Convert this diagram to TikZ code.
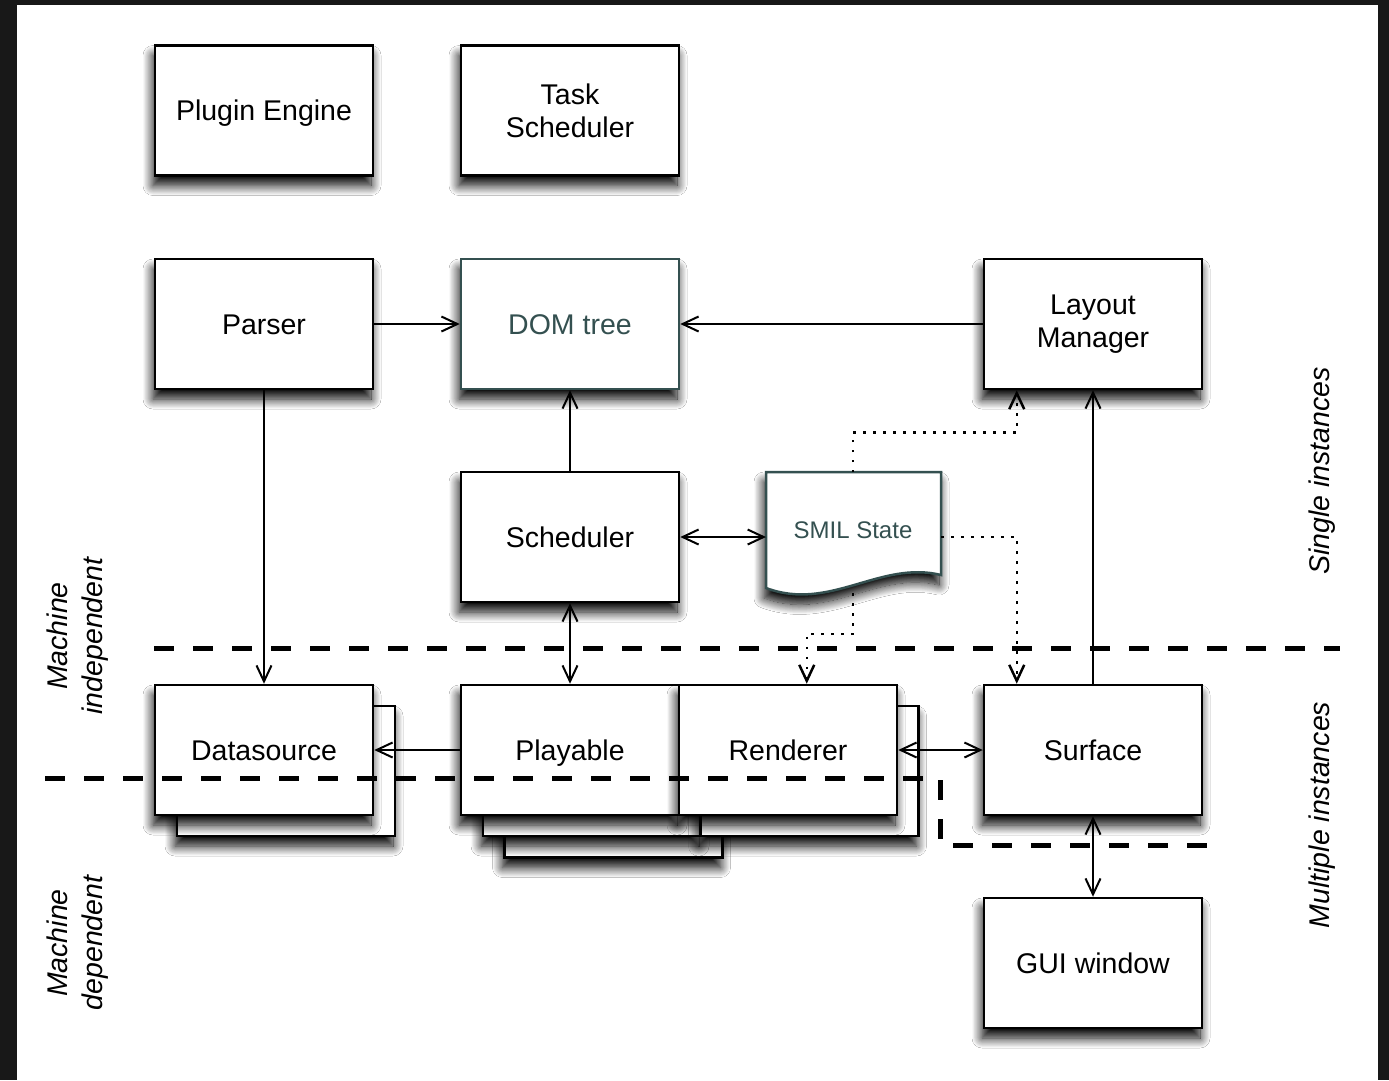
\documentclass[tikz,border=0pt]{standalone}
\usepackage{fontspec}
\setmainfont{Liberation Sans}
\usetikzlibrary{arrows.meta,shadows.blur}
\definecolor{slate}{RGB}{52,80,80}
\definecolor{framecol}{RGB}{24,24,24}
\tikzset{
  shad/.style={blur shadow={shadow xshift=-2pt, shadow yshift=-10pt, shadow blur radius=10pt, shadow opacity=100, shadow blur steps=14}},
  box/.style={draw=black, line width=2.5pt, fill=white, minimum width=218pt, minimum height=130pt,
    inner sep=0pt, align=center, font=\fontsize{28.5}{33}\selectfont, shad},
  one/.style={text height=20.5pt, text depth=0pt},
  slatebox/.style={box, one, draw=slate, text=slate},
  lab/.style={align=center, font=\fontsize{28.5}{35}\selectfont\itshape, rotate=90},
  conn/.style={line width=2pt},
  tip/.tip={Straight Barb[length=16pt,width=15pt]},
  arr/.style={conn, -tip},
  darr/.style={conn, tip-tip},
  dots/.style={line width=2.5pt, dash pattern=on 2.5pt off 7.5pt, -tip},
  divider/.style={line width=5pt, dash pattern=on 20pt off 19pt}
}
\begin{document}
\begin{tikzpicture}[x=1pt,y=-1pt]
\useasboundingbox (0,0) rectangle (1389,1080);
\fill[framecol] (0,0) rectangle (1389,1080);
\fill[white] (17,5) rectangle (1378,1080);

% top row
\node[box, one] (plugin) at (264,110.5) {Plugin Engine};
\node[box] (task) at (570,110.5) {Task\\Scheduler};

% second row
\node[box, one] (parser) at (264,324) {Parser};
\node[slatebox] (dom) at (570,324) {DOM tree};
\node[box] (layout) at (1093,324) {Layout\\Manager};

% third row
\node[box, one] (sched) at (570,537) {Scheduler};
\draw[draw=slate, line width=2.5pt, fill=white, shad]
  (766,472) -- (941,472) -- (941,575)
  .. controls (880,560) and (830,612) .. (766,588) -- cycle;
\node[text=slate, font=\fontsize{24}{28}\selectfont, text height=17.2pt, text depth=0pt] (smil) at (853,530) {SMIL State};
\coordinate (smiltop) at (853,472);
\coordinate (smilright) at (941,537);
\coordinate (smilbot) at (853,593);

% fourth row (stacked instances)
\node[box] (ds2) at (286,771) {};
\node[box, one] (ds) at (264,750) {Datasource};
\node[box] (pl3) at (613.5,792.5) {};
\node[box] (pl2) at (592,771) {};
\node[box] (rn2) at (809.5,771) {};
\node[box, one] (play) at (570,750) {Playable};
\node[box, one] (rend) at (788,750) {Renderer};
\node[box, one] (surf) at (1093,750) {Surface};
\node[box, one] (gui) at (1093,963) {GUI window};

% connectors
\draw[arr] (parser.east) -- (dom.west);
\draw[arr] (layout.west) -- (dom.east);
\draw[arr] (sched.north) -- (dom.south);
\draw[arr] (parser.south) -- (ds.north);
\draw[darr] (sched.east) -- (smilright -| 766,0);
\draw[darr] (sched.south) -- (play.north);
\draw[arr] (play.west) -- (ds.east);
\draw[darr] (rend.east) -- (surf.west);
\draw[arr] (surf.north) -- (layout.south);
\draw[darr] (gui.north) -- (surf.south);

% dotted dependencies
\draw[dots] (smiltop) |- ([xshift=34pt,yshift=-42pt]layout.south west) -- ([xshift=34pt]layout.south west);
\draw[dots] (smilright) -| ([xshift=34pt]surf.north west);
\draw[dots] (smilbot) |- ([xshift=129pt,yshift=50pt]rend.north west) -- ([xshift=129pt]rend.north west);

% dividers
\draw[divider] (154,648) -- (1340,648);
\draw[divider] (45,778) -- (940,778) -- (940,845) -- (1225,845);

% labels
\node[lab] (mind) at (78,636) {Machine\\independent};
\node[lab] (mdep) at (78,943) {Machine\\dependent};
\node[lab] (single) at (1322,471) {Single instances};
\node[lab] (multi) at (1322,815) {Multiple instances};
\end{tikzpicture}
\end{document}
